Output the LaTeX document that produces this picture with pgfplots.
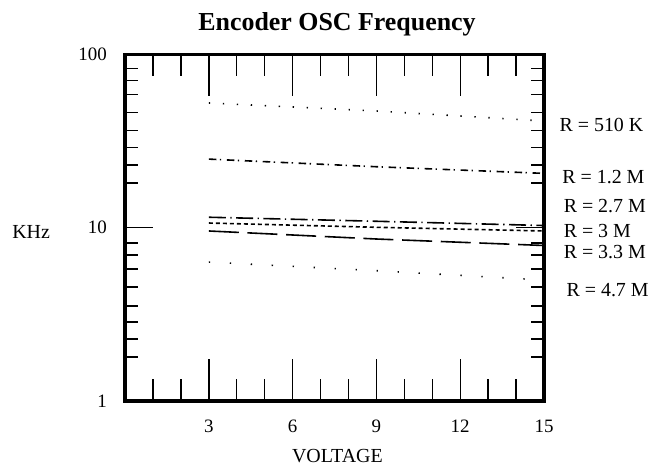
\documentclass[border=0pt]{standalone}
\usepackage{fontspec}
\setmainfont{Liberation Serif}
\usepackage{pgfplots}
\pgfplotsset{compat=1.18}

\newcommand\lbl{\fontsize{20}{24}\selectfont}
\newcommand\tkl{\fontsize{19}{22}\selectfont}

\pgfplotsset{
  oscbox/.style={
    scale only axis, width=419bp, height=346.5bp,
    at={(0,0)}, anchor=south west,
    xmin=0, xmax=15, ymin=1, ymax=100,
    axis line style={line width=3.5bp},
    tick align=inside,
    tick style={line width=1.4bp, black},
    minor tick style={line width=1.4bp, black},
  },
  rline/.style={black, no marks, line width=1.6bp, line cap=butt},
}

\begin{document}
\begin{tikzpicture}
\path[use as bounding box] (-125bp,-67bp) rectangle (530bp,401bp);

% x ticks, data, labels
\begin{semilogyaxis}[oscbox, clip=false,
    xtick={3,6,9,12,15}, xticklabels={3,6,9,12,15},
    minor xtick={1,2,4,5,7,8,10,11,13,14},
    major tick length=42bp, minor tick length=22bp,
    ymajorticks=false, yminorticks=false,
    xticklabel style={font=\tkl, inner sep=0pt, yshift=-19bp},
    xlabel={VOLTAGE},
    every axis x label/.style={at={(axis description cs:0.507,-0.158)}, anchor=center, font=\lbl},
    title={\textbf{Encoder OSC Frequency}},
    every axis title/.style={at={(axis description cs:0.506,1.087)}, anchor=center, font=\fontsize{26}{30}\selectfont},
  ]
  % R = 510 K
  \addplot[rline, dash pattern=on 1.3bp off 12.7bp] coordinates {(3,52.5)(9,47.2)(15,41.3)};
  % R = 1.2 M
  \addplot[rline, dash pattern=on 7.5bp off 3.5bp on 1.3bp off 5.7bp] coordinates {(3,24.9)(9,22.5)(15,20.6)};
  % R = 2.7 M
  \addplot[rline, dash pattern=on 17bp off 4.5bp on 1.3bp off 4.5bp] coordinates {(3,11.5)(9,10.9)(15,10.3)};
  % R = 3 M
  \addplot[rline, dash pattern=on 4bp off 3bp] coordinates {(3,10.65)(9,10.06)(15,9.58)};
  % R = 3.3 M
  \addplot[rline, dash pattern=on 30bp off 8.7bp] coordinates {(3,9.58)(9,8.61)(15,7.90)};
  % R = 4.7 M
  \addplot[rline, dash pattern=on 1.3bp off 19.7bp] coordinates {(3,6.34)(9,5.65)(15,4.99)};

  \node[anchor=west, inner sep=0pt, font=\lbl] at (axis cs:15.55,39.2) {R = 510 K};
  \node[anchor=west, inner sep=0pt, font=\lbl] at (axis cs:15.65,19.7) {R = 1.2 M};
  \node[anchor=west, inner sep=0pt, font=\lbl] at (axis cs:15.7,13.4) {R = 2.7 M};
  \node[anchor=west, inner sep=0pt, font=\lbl] at (axis cs:15.7,9.62) {R = 3 M};
  \node[anchor=west, inner sep=0pt, font=\lbl] at (axis cs:15.7,7.27) {R = 3.3 M};
  \node[anchor=west, inner sep=0pt, font=\lbl] at (axis cs:15.8,4.37) {R = 4.7 M};
\end{semilogyaxis}

% y ticks (shorter than the x ticks)
\begin{semilogyaxis}[oscbox,
    xmajorticks=false, xminorticks=false,
    ytick={1,10,100}, yticklabels={1,10,100},
    minor ytick={1.79,2.28,2.86,3.53,4.55,5.78,6.96,8.17,18.1,23.0,29.1,36.3,46.1,58.9,70.6,83.2},
    major tick length=28bp, minor tick length=13bp,
    yticklabel style={font=\tkl, inner sep=0pt, xshift=-18bp},
    ylabel={KHz},
    every axis y label/.style={at={(axis description cs:-0.224,0.488)}, anchor=center, font=\lbl},
  ]
\end{semilogyaxis}
\end{tikzpicture}
\end{document}
